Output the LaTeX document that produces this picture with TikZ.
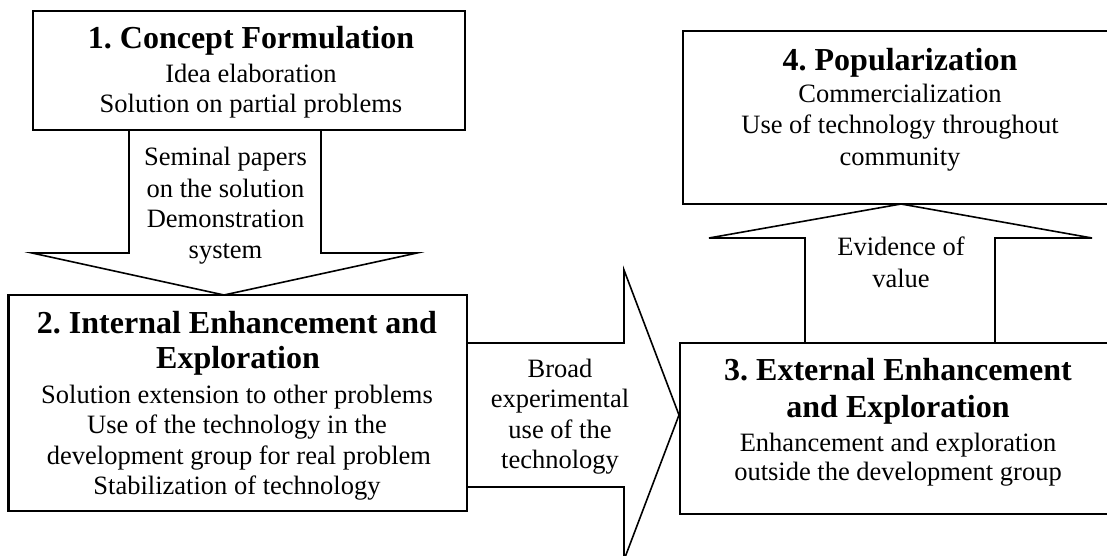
\documentclass[tikz,border=0pt]{standalone}
\usepackage{fontspec}
\setmainfont{Liberation Serif}
\frenchspacing
\begin{document}
\begin{tikzpicture}[x=1pt,y=-1pt,
  box/.style={draw, line width=2.2pt, fill=white, inner sep=0pt},
  blockarrow/.style={draw, line width=1.6pt, fill=white, line join=miter},
  ttl/.style={font=\fontsize{32}{36}\selectfont\bfseries, anchor=base, inner sep=0pt},
  txt/.style={font=\fontsize{26.5}{31}\selectfont, anchor=base, inner sep=0pt}]
\useasboundingbox (0,0) rectangle (1107,556);

% block arrows between the stages
\draw[blockarrow] (129,130) -- (129,253) -- (32,253) -- (224,295) -- (417,253) -- (321,253) -- (321,130);
\draw[blockarrow] (467,343) -- (624,343) -- (624,270) -- (679,415) -- (624,560) -- (624,487) -- (467,487);
\draw[blockarrow] (805,343) -- (805,238) -- (709,238) -- (901,204) -- (1092,238) -- (995,238) -- (995,343);

% stage boxes
\node[box, minimum width=432, minimum height=119] (b1) at (249,70.5) {};
\node[box, minimum width=458.5, minimum height=216] (b2) at (237.75,403) {};
\node[box, minimum width=436, minimum height=171] (b3) at (898,428.5) {};
\node[box, minimum width=436, minimum height=173] (b4) at (901,117.5) {};

% stage 1
\node[ttl] (b1t) at (251,49) {1. Concept Formulation};
\node[txt] (b1a) at (251,83) {Idea elaboration};
\node[txt] (b1b) at (251,113) {Solution on partial problems};

% arrow 1 -> 2
\node[txt] (d1) at (225.5,166) {Seminal papers};
\node[txt] (d2) at (225.5,197) {on the solution};
\node[txt] (d3) at (225.5,227.5) {Demonstration};
\node[txt] (d4) at (225.5,258) {system};

% stage 2
\node[ttl] (b2t) at (237,333) {2. Internal Enhancement and};
\node[ttl] (b2u) at (238,368) {Exploration};
\node[txt] (b2a) at (237,403) {Solution extension to other problems};
\node[txt] (b2b) at (237,433.5) {Use of the technology in the};
\node[txt] (b2c) at (239,464) {development group for real problem};
\node[txt] (b2d) at (237,494.5) {Stabilization of technology};

% arrow 2 -> 3
\node[txt] (r1) at (560,377) {Broad};
\node[txt] (r2) at (560,407.5) {experimental};
\node[txt] (r3) at (560,438) {use of the};
\node[txt] (r4) at (560,468.5) {technology};

% stage 3
\node[ttl] (b3t) at (898,380) {3. External Enhancement};
\node[ttl] (b3u) at (898,417) {and Exploration};
\node[txt] (b3a) at (898,451) {Enhancement and exploration};
\node[txt] (b3b) at (898,480) {outside the development group};

% arrow 3 -> 4
\node[txt] (u1) at (901,255) {Evidence of};
\node[txt] (u2) at (901,287) {value};

% stage 4
\node[ttl] (b4t) at (900,71) {4. Popularization};
\node[txt] (b4a) at (900,103) {Commercialization};
\node[txt] (b4b) at (900,134) {Use of technology throughout};
\node[txt] (b4c) at (900,165) {community};
\end{tikzpicture}
\end{document}
